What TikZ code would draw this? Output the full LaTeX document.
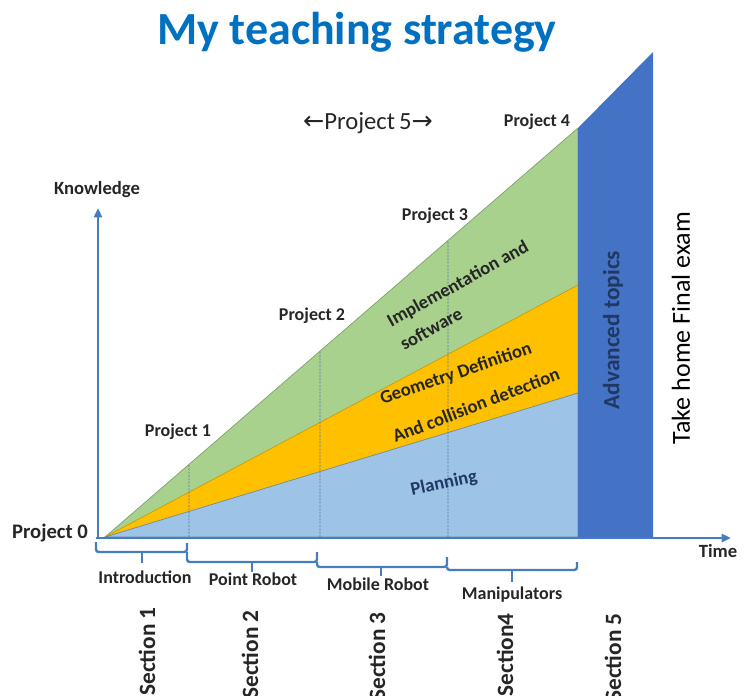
\documentclass[tikz,border=0pt]{standalone}
\usepackage{fontspec}
\setmainfont{Carlito}
\newfontfamily\arrowfont{DejaVu Sans}
\usepackage{xcolor}
\usepackage{tikz}
\usetikzlibrary{arrows.meta, positioning, calc}
\definecolor{titleblue}{RGB}{0, 112, 192}
\definecolor{axisblue}{RGB}{70, 125, 190}
\definecolor{guideblue}{RGB}{80, 115, 175}
\definecolor{kwgreen}{RGB}{169, 209, 142}
\definecolor{kworange}{RGB}{255, 192, 0}
\definecolor{kwlight}{RGB}{157, 195, 230}
\definecolor{kwblue}{RGB}{68, 114, 196}
\definecolor{textdark}{RGB}{38, 38, 38}
\definecolor{navy}{RGB}{31, 56, 100}

\begin{document}
\begin{tikzpicture}[
    x=0.75pt, y=-0.75pt,
    lbl/.style={inner sep=0pt, font=\fontsize{13.5}{16}\selectfont\bfseries, text=textdark},
    region/.style={inner sep=0pt, font=\fontsize{14}{20}\selectfont\bfseries, text=textdark},
    sect/.style={rotate=90, anchor=east, inner sep=0pt, font=\fontsize{17.5}{22}\selectfont\bfseries, text=textdark},
    axis/.style={draw=axisblue, line width=2.2pt, -{Triangle[length=7pt, width=6pt]}},
    brace/.style={draw=axisblue, line width=1.8pt, rounded corners=2pt},
    guide/.style={draw=guideblue, line width=0.6pt, dash pattern=on 1.5pt off 1pt}
]
    \useasboundingbox (0,0) rectangle (748,695);

    % corner points of the layers
    \coordinate (tip) at (105,537);
    \coordinate (p4) at (578,128);
    \coordinate (g4) at (578,285);
    \coordinate (b4) at (578,393);
    \coordinate (base4) at (578,537);
    \coordinate (top5) at (653,52);
    \coordinate (base5) at (653,537);

    \filldraw[fill=kwgreen, draw=kwgreen!75!black, line width=0.5pt] (tip) -- (p4) -- (base4) -- cycle;
    \filldraw[fill=kworange, draw=kworange!80!black, line width=0.5pt] (tip) -- (g4) -- (base4) -- cycle;
    \filldraw[fill=kwlight, draw=kwlight!70!black, line width=0.5pt] (tip) -- (b4) -- (base4) -- cycle;
    \fill[kwblue] (base4) -- (p4) -- (top5) -- (base5) -- cycle;

    % project guides
    \draw[guide] (189,537) -- ($(tip)!0.1776!(p4)$);
    \draw[guide] (320,537) -- ($(tip)!0.4545!(p4)$);
    \draw[guide] (448,537) -- ($(tip)!0.7252!(p4)$);

    % axes
    \coordinate (O) at (98,538);
    \coordinate (ytop) at (98,208);
    \coordinate (xend) at (731,538);
    \draw[axis] (O) -- (ytop);
    \draw[axis] (96,538) -- (xend);

    \node[font=\fontsize{34.5}{40}\selectfont\bfseries, text=titleblue, anchor=base] (title) at (357,45) {My teaching strategy};
    \node[inner sep=0pt, font=\fontsize{18.5}{22}\selectfont, text=textdark] (proj5) at (368,123) {{\arrowfont\fontsize{19}{22}\selectfont ←}Project\,5{\arrowfont\fontsize{19}{22}\selectfont →}};
    \node[lbl, font=\fontsize{14}{16}\selectfont\bfseries] (know) at (97,190) {Knowledge};
    \node[lbl, font=\fontsize{14}{16}\selectfont\bfseries] (time) at (718,551) {Time};
    \node[lbl, font=\fontsize{15.5}{18}\selectfont\bfseries] (proj0) at (50,533) {Project 0};
    \node[lbl] (proj1) at (178,432) {Project 1};
    \node[lbl] (proj2) at (312,316) {Project 2};
    \node[lbl] (proj3) at (435,216) {Project 3};
    \node[lbl] (proj4) at (537,122) {Project 4};

    \node[region, rotate=29, align=left] (impl) at (464,295) {Implementation and\\software};
    \node[region, rotate=19] (geom) at (456,374) {Geometry Definition};
    \node[region, rotate=21] (coll) at (476,405) {And collision detection};
    \node[region, rotate=12, text=navy] (plan) at (444,484) {Planning};

    \node[rotate=90, inner sep=0pt, font=\fontsize{17.5}{20}\selectfont\bfseries, text=navy] (adv) at (613,330) {Advanced topics};
    \node[rotate=90, inner sep=0pt, font=\fontsize{19.5}{22}\selectfont, text=black] (exam) at (681,328) {Take home Final exam};

    % brackets under the time axis
    \draw[brace] (96,542) -- (96,552) -- (187,552) -- (187,543);
    \draw[brace] (142,552) -- (142,563);
    \draw[brace] (187,552) -- (187,562) -- (317,562) -- (317,552);
    \draw[brace] (252,562) -- (252,572);
    \draw[brace] (317,562) -- (317,567) -- (447,567) -- (447,557);
    \draw[brace] (381,567) -- (381,576);
    \draw[brace] (447,567) -- (447,570) -- (577,570) -- (577,562);
    \draw[brace] (512,570) -- (512,582);

    \node[lbl] (intro) at (145,577) {Introduction};
    \node[lbl] (point) at (253,579) {Point Robot};
    \node[lbl] (mobile) at (378,584) {Mobile Robot};
    \node[lbl] (manip) at (512,595) {Manipulators};

    \node[sect] (sec1) at (147,607) {Section 1};
    \node[sect] (sec2) at (250,610) {Section 2};
    \node[sect] (sec3) at (377,612) {Section 3};
    \node[sect] (sec4) at (505,613) {Section4};
    \node[sect] (sec5) at (613,613) {Section 5};
\end{tikzpicture}
\end{document}
